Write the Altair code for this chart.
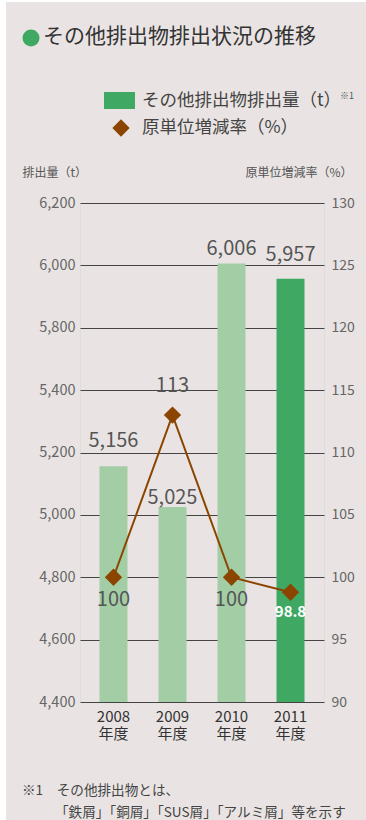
import altair as alt
import pandas as pd

# ---- data ----
years = ["2008", "2009", "2010", "2011"]
amounts = [5156, 5025, 6006, 5957]
amount_labels = ["5,156", "5,025", "6,006", "5,957"]
rates = [100, 113, 100, 98.8]
rate_labels = ["100", "113", "100", "98.8"]
left_ticks = [4400, 4600, 4800, 5000, 5200, 5400, 5800, 6000, 6200]
right_ticks = [90, 95, 100, 105, 110, 115, 120, 125, 130]

title_text = "その他排出物排出状況の推移"
legend_bar = "その他排出物排出量（t）"
legend_note = "※1"
legend_line = "原単位増減率（%）"
left_title = "排出量（t）"
right_title = "原単位増減率（%）"
foot1 = "※1　その他排出物とは、"
foot2 = "「鉄屑」「銅屑」「SUS屑」「アルミ屑」等を示す"

df = pd.DataFrame({
    "year": years,
    "amount": amounts,
    "amount_label": amount_labels,
    "rate": rates,
    "rate_label": rate_labels,
})

# ---- layout / style ----
W, H = 244, 499
STEP = H / 8
FONT = "Noto Sans CJK JP"
BG = "#e9e4e3"
LIGHT = "#a3cda5"
DARK = "#3fa863"
BROWN = "#8b4500"

x_enc = alt.X(
    "year:N",
    scale=alt.Scale(paddingInner=0.525, paddingOuter=0.33),
    axis=alt.Axis(
        title=None, labelExpr="[datum.label, '年度']", ticks=False, domain=False,
        labelAngle=0, labelPadding=7, labelFontSize=15, labelColor="#333",
        labelLineHeight=17, labelFont=FONT,
    ),
)

y_left_scale = alt.Scale(
    domain=[4400, 5400, 5800, 6200],
    range=[H, H - 5 * STEP, H - 6 * STEP, 0],
)
y_right_scale = alt.Scale(domain=[90, 130], range=[H, 0])

left_axis = alt.Axis(
    orient="left", values=left_ticks, labelExpr="format(datum.value, ',')",
    grid=True, gridColor="#444",
    gridWidth=1, ticks=False, domain=False, labelPadding=5, labelFontSize=14.5,
    labelColor="#666", title=left_title, titleAngle=0, titleAlign="left",
    titleBaseline="middle", titleX=-58, titleY=-31, titleFontSize=12,
    titleFontWeight="normal", titleColor="#555",
)
right_axis = alt.Axis(
    orient="right", values=right_ticks, grid=False, ticks=False, domain=False,
    labelPadding=7, labelFontSize=14, labelColor="#666", title=right_title,
    titleAngle=0, titleAlign="right", titleBaseline="middle", titleX=28,
    titleY=-31, titleFontSize=12, titleFontWeight="normal", titleColor="#555",
)

base = alt.Chart(df)

bars = base.mark_bar(size=28).encode(
    x=x_enc,
    y=alt.Y("amount:Q", scale=y_left_scale, axis=left_axis),
    y2=alt.datum(4400),
    color=alt.condition(alt.datum.year == "2011", alt.value(DARK), alt.value(LIGHT)),
)

bar_dy = {"2008": -19, "2009": -3, "2010": -9, "2011": -18}
bar_label_layers = [
    base.transform_filter(alt.datum.year == yr).mark_text(
        fontSize=20, color="#555", dy=d, baseline="alphabetic", font=FONT
    ).encode(
        x="year:N",
        y=alt.Y("amount:Q", scale=y_left_scale, axis=left_axis),
        text="amount_label:N",
    )
    for yr, d in bar_dy.items()
]
left_layer = alt.layer(bars, *bar_label_layers)

line = base.mark_line(color=BROWN, strokeWidth=2).encode(
    x="year:N",
    y=alt.Y("rate:Q", scale=y_right_scale, axis=right_axis),
)
points = base.mark_point(shape="diamond", filled=True, size=300, color=BROWN, opacity=1).encode(
    x="year:N",
    y=alt.Y("rate:Q", scale=y_right_scale, axis=right_axis),
)
rate_style = {
    "2008": dict(dy=23, color="#555", fontSize=20),
    "2009": dict(dy=-29, color="#555", fontSize=20),
    "2010": dict(dy=23, color="#555", fontSize=20),
    "2011": dict(dy=20, color="#ffffff", fontSize=15, fontWeight="bold"),
}
rate_label_layers = [
    base.transform_filter(alt.datum.year == yr).mark_text(
        baseline="middle", font=FONT, **st
    ).encode(
        x="year:N",
        y=alt.Y("rate:Q", scale=y_right_scale, axis=right_axis),
        text="rate_label:N",
    )
    for yr, st in rate_style.items()
]
right_layer = alt.layer(line, points, *rate_label_layers)

one = pd.DataFrame({"t": [""]})

# thin white frame strips (left and top edge of the picture)
white_left = alt.Chart(one).mark_rect(color="#ffffff").encode(
    x=alt.value(-80), x2=alt.value(-74), y=alt.value(-203), y2=alt.value(617)
)
white_top = alt.Chart(one).mark_rect(color="#ffffff").encode(
    x=alt.value(-80), x2=alt.value(286), y=alt.value(-203), y2=alt.value(-201)
)

title_dot = alt.Chart(one).mark_point(shape="circle", filled=True, size=290, color=DARK, opacity=1).encode(
    x=alt.value(-49), y=alt.value(-165)
)
title_txt = alt.Chart(pd.DataFrame({"t": [title_text]})).mark_text(
    align="left", baseline="middle", fontSize=21, color="#333", font=FONT
).encode(x=alt.value(-37), y=alt.value(-166), text="t:N")

leg_rect = alt.Chart(one).mark_rect(color=DARK).encode(
    x=alt.value(24), x2=alt.value(55), y=alt.value(-111), y2=alt.value(-94)
)
leg_txt1 = alt.Chart(pd.DataFrame({"t": [legend_bar]})).mark_text(
    align="left", baseline="middle", fontSize=17.5, color="#444", font=FONT
).encode(x=alt.value(62), y=alt.value(-102), text="t:N")
leg_note = alt.Chart(pd.DataFrame({"t": [legend_note]})).mark_text(
    align="left", baseline="middle", fontSize=9, color="#555", font=FONT
).encode(x=alt.value(260), y=alt.value(-107), text="t:N")
leg_diamond = alt.Chart(one).mark_point(shape="diamond", filled=True, size=300, color=BROWN, opacity=1).encode(
    x=alt.value(41), y=alt.value(-75)
)
leg_txt2 = alt.Chart(pd.DataFrame({"t": [legend_line]})).mark_text(
    align="left", baseline="middle", fontSize=17.5, color="#444", font=FONT
).encode(x=alt.value(62), y=alt.value(-75), text="t:N")

foot_txt1 = alt.Chart(pd.DataFrame({"t": [foot1]})).mark_text(
    align="left", baseline="middle", fontSize=13.6, color="#444", font=FONT
).encode(x=alt.value(-58), y=alt.value(588), text="t:N")
foot_txt2 = alt.Chart(pd.DataFrame({"t": [foot2]})).mark_text(
    align="left", baseline="middle", fontSize=13.6, color="#444", font=FONT
).encode(x=alt.value(-25), y=alt.value(610), text="t:N")

chart = alt.layer(
    left_layer, right_layer, white_left, white_top,
    title_dot, title_txt, leg_rect, leg_txt1, leg_note, leg_diamond, leg_txt2,
    foot_txt1, foot_txt2,
).resolve_scale(y="independent").properties(
    width=W, height=H,
    padding={"left": 80, "top": 203, "right": 42, "bottom": 118},
    autosize=alt.AutoSizeParams(type="none"),
    background=BG,
).configure_view(stroke=None).configure(font=FONT)

chart.save("out.html", embed_options={"renderer": "svg", "actions": False})
